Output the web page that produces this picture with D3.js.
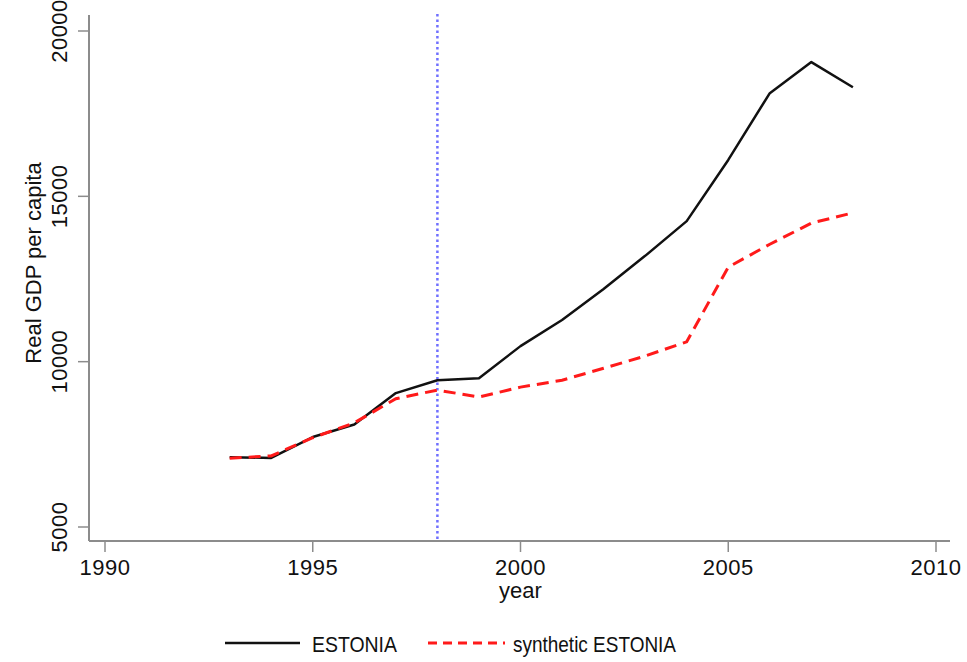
<!DOCTYPE html>
<html>
<head>
<meta charset="utf-8">
<script src="https://cdn.jsdelivr.net/npm/d3@7"></script>
<style>
  body { margin: 0; background: #fff; }
  svg { display: block; font-family: "Liberation Sans", Arial, sans-serif; }
</style>
</head>
<body>
<svg id="chart"></svg>
<script>
// values
var years = [1993, 1994, 1995, 1996, 1997, 1998, 1999, 2000, 2001, 2002, 2003, 2004, 2005, 2006, 2007, 2008];
var estonia = [7110, 7090, 7720, 8100, 9050, 9440, 9500, 10470, 11260, 12200, 13200, 14250, 16100, 18120, 19060, 18300];
var synthetic = [7080, 7150, 7700, 8150, 8880, 9140, 8930, 9230, 9440, 9800, 10170, 10600, 12860, 13550, 14190, 14500];
var xTicks = [1990, 1995, 2000, 2005, 2010];
var yTicks = [5000, 10000, 15000, 20000];
var treatYear = 1998;
var seriesNames = ["ESTONIA", "synthetic ESTONIA"];

var W = 967, H = 662;
var svg = d3.select("#chart").attr("width", W).attr("height", H);

var x = d3.scaleLinear().domain([1990, 2010]).range([105, 936]);
var y = d3.scaleLinear().domain([5000, 20000]).range([527, 31]);

var axisColor = "#8c8c8c";
var textColor = "#111";

// axis lines
svg.append("line").attr("x1", 89).attr("x2", 89).attr("y1", 15).attr("y2", 541)
  .attr("stroke", axisColor).attr("stroke-width", 2);
svg.append("line").attr("x1", 89).attr("x2", 950).attr("y1", 541).attr("y2", 541)
  .attr("stroke", axisColor).attr("stroke-width", 2);

// x ticks
var gx = svg.append("g");
gx.selectAll("line").data(xTicks).enter().append("line")
  .attr("x1", d => x(d)).attr("x2", d => x(d))
  .attr("y1", 541).attr("y2", 552)
  .attr("stroke", axisColor).attr("stroke-width", 1.5);
gx.selectAll("text").data(xTicks).enter().append("text")
  .attr("x", d => x(d)).attr("y", 575)
  .attr("text-anchor", "middle").attr("font-size", 22).attr("letter-spacing", 0.5)
  .attr("fill", textColor)
  .text(d => d);

// y ticks
var gy = svg.append("g");
gy.selectAll("line").data(yTicks).enter().append("line")
  .attr("x1", 78).attr("x2", 89)
  .attr("y1", d => y(d)).attr("y2", d => y(d))
  .attr("stroke", axisColor).attr("stroke-width", 1.5);
gy.selectAll("text").data(yTicks).enter().append("text")
  .attr("transform", d => "translate(67," + y(d) + ") rotate(-90)")
  .attr("text-anchor", "middle").attr("font-size", 22).attr("letter-spacing", 0.5)
  .attr("fill", textColor)
  .text(d => d);

// axis titles
svg.append("text").attr("x", x(2000)).attr("y", 598)
  .attr("text-anchor", "middle").attr("font-size", 22).attr("fill", textColor)
  .text("year");
svg.append("text").attr("transform", "translate(41,263) rotate(-90)")
  .attr("text-anchor", "middle").attr("font-size", 22).attr("fill", textColor)
  .text("Real GDP per capita");

// treatment line
svg.append("line").attr("x1", x(treatYear)).attr("x2", x(treatYear))
  .attr("y1", 14).attr("y2", 541)
  .attr("stroke", "#6f6fff").attr("stroke-width", 2.5)
  .attr("stroke-dasharray", "2.5,3");

var line = d3.line().x(d => x(d[0])).y(d => y(d[1]));

svg.append("path").datum(d3.zip(years, estonia))
  .attr("d", line).attr("fill", "none")
  .attr("stroke", "#111").attr("stroke-width", 2.5)
  .attr("stroke-linejoin", "round");

svg.append("path").datum(d3.zip(years, synthetic))
  .attr("d", line).attr("fill", "none")
  .attr("stroke", "#ff1a1a").attr("stroke-width", 3)
  .attr("stroke-dasharray", "12,7");

// legend
var lg = svg.append("g");
lg.append("line").attr("x1", 225).attr("x2", 300).attr("y1", 643).attr("y2", 643)
  .attr("stroke", "#111").attr("stroke-width", 2.5);
lg.append("text").attr("x", 312).attr("y", 652).attr("font-size", 22).attr("fill", textColor)
  .attr("textLength", 85).attr("lengthAdjust", "spacingAndGlyphs")
  .text(seriesNames[0]);
lg.append("line").attr("x1", 428).attr("x2", 505).attr("y1", 643).attr("y2", 643)
  .attr("stroke", "#ff1a1a").attr("stroke-width", 3)
  .attr("stroke-dasharray", "9,6");
lg.append("text").attr("x", 513).attr("y", 652).attr("font-size", 22).attr("fill", textColor)
  .attr("textLength", 163).attr("lengthAdjust", "spacingAndGlyphs")
  .text(seriesNames[1]);
</script>
</body>
</html>
